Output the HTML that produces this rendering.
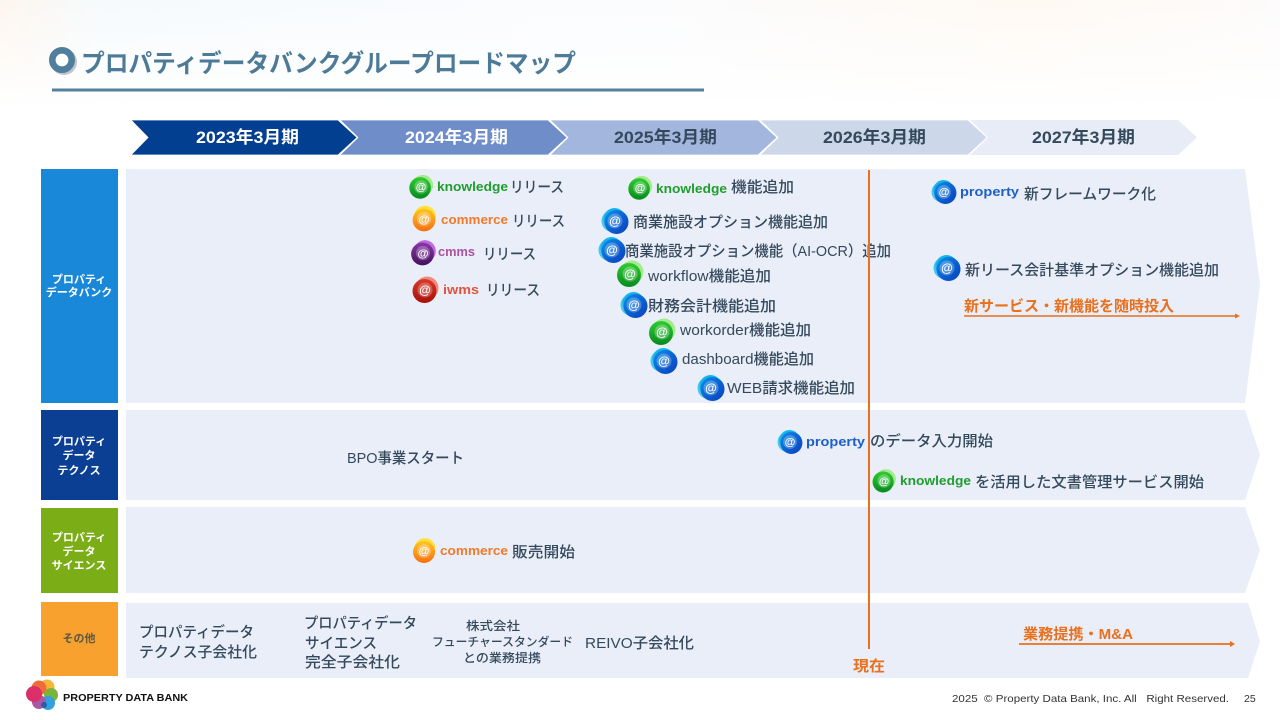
<!DOCTYPE html>
<html lang="ja"><head><meta charset="utf-8"><title>プロパティデータバンクグループロードマップ</title>
<style>
html,body{margin:0;padding:0;background:#fff}
svg{display:block}
text{font-family:"Liberation Sans","Noto Sans CJK JP",sans-serif;font-weight:500;fill:#34495c;font-size:15px}
.b{font-weight:700}
.at{fill:#fff;font-size:12px;text-anchor:middle;font-weight:700}
.y{font-size:17px;font-weight:700}
.l{font-size:11px;font-weight:700;fill:#fff;text-anchor:middle}
</style></head><body>
<svg width="1280" height="720" viewBox="0 0 1280 720" xmlns="http://www.w3.org/2000/svg">
<defs>
<linearGradient id="bg1" x1="0" y1="0" x2="1" y2="0"><stop offset="0" stop-color="#fdf6ee"/><stop offset=".08" stop-color="#f6fafd"/><stop offset=".5" stop-color="#fbfcfe"/><stop offset=".8" stop-color="#fff9f3"/><stop offset="1" stop-color="#fdfbfb"/></linearGradient>
<linearGradient id="fade" x1="0" y1="0" x2="0" y2="1"><stop offset="0" stop-color="#fff" stop-opacity="0"/><stop offset="1" stop-color="#fff"/></linearGradient>
<linearGradient id="gG" x1="0" y1="0" x2="0" y2="1"><stop offset="0" stop-color="#2fcc2f"/><stop offset="1" stop-color="#078a1e"/></linearGradient>
<linearGradient id="gO" x1="0" y1="0" x2="0" y2="1"><stop offset="0" stop-color="#ffc81e"/><stop offset="1" stop-color="#f56f14"/></linearGradient>
<linearGradient id="gP" x1="0" y1="0" x2="0" y2="1"><stop offset="0" stop-color="#8a36a8"/><stop offset="1" stop-color="#43125c"/></linearGradient>
<linearGradient id="gR" x1="0" y1="0" x2="0" y2="1"><stop offset="0" stop-color="#d83a2a"/><stop offset="1" stop-color="#a80f08"/></linearGradient>
<linearGradient id="gB" x1="0" y1="0" x2="1" y2="1"><stop offset="0" stop-color="#0e8fe6"/><stop offset=".6" stop-color="#0a5bd0"/><stop offset="1" stop-color="#0a3fb8"/></linearGradient>
<g id="bG"><circle cx="2" cy="-2" r="11.500" fill="#a6ea90"/><circle cx="-1" cy="1" r="12" fill="url(#gG)"/><circle cx="0" cy="0" r="7.500" fill="#fff" opacity=".28"/></g>
<g id="bO"><circle cx="1" cy="-2.500" r="11.500" fill="#ffe13a"/><circle cx="0" cy="1" r="12" fill="url(#gO)"/><circle cx="0" cy="0" r="7.500" fill="#fff" opacity=".28"/></g>
<g id="bP"><circle cx="2" cy="-2" r="11.500" fill="#c06adf"/><circle cx="-0.500" cy="1" r="12" fill="url(#gP)"/><circle cx="0" cy="0" r="7.500" fill="#fff" opacity=".25"/></g>
<g id="bR"><circle cx="2" cy="-2" r="11.500" fill="#f08a78"/><circle cx="-0.500" cy="1" r="12" fill="url(#gR)"/><circle cx="0" cy="0" r="7.500" fill="#fff" opacity=".25"/></g>
<g id="bB"><circle cx="-2.500" cy="0" r="11" fill="#45c6ea"/><circle cx="-0.500" cy="-2" r="11" fill="#10b4ee"/><circle cx="1.500" cy="1" r="12" fill="url(#gB)"/><circle cx="0" cy="0" r="7.500" fill="#fff" opacity=".25"/></g>
</defs>

<!-- background -->
<rect width="1280" height="720" fill="#fff"/>
<rect width="1280" height="110" fill="url(#bg1)"/>
<rect width="1280" height="110" fill="url(#fade)"/>

<!-- title -->
<circle cx="64" cy="62" r="13" fill="#8d9aa5" opacity=".55"/>
<circle cx="62" cy="60" r="9.700" fill="#fff" stroke="#4f7f9c" stroke-width="6.600"/>
<text x="81" y="72" class="b" style="font-size:25px;fill:#4d7a96" textLength="495" lengthAdjust="spacingAndGlyphs">プロパティデータバンクグループロードマップ</text>
<rect x="52" y="88.500" width="652" height="3" fill="#53809c"/>

<!-- timeline -->
<polygon points="970,120 1178,120 1197,137.500 1178,155 970,155 988,137.500" fill="#e7ecf6"/>
<polygon points="760,120 968,120 987,137.500 968,155 760,155 778,137.500" fill="#ccd7ea" stroke="#fff" stroke-width=".8"/>
<polygon points="550,120 758,120 777,137.500 758,155 550,155 568,137.500" fill="#a3b6dd" stroke="#fff" stroke-width=".8"/>
<polygon points="340,120 548,120 567,137.500 548,155 340,155 358,137.500" fill="#6f8dc9" stroke="#fff" stroke-width=".8"/>
<polygon points="131,120 338,120 357,137.500 338,155 131,155 148,137.500" fill="#033f91" stroke="#fff" stroke-width=".8"/>
<text class="y" x="196" y="143" style="fill:#fff" textLength="103" lengthAdjust="spacingAndGlyphs">2023年3月期</text>
<text class="y" x="405" y="143" style="fill:#fff" textLength="103" lengthAdjust="spacingAndGlyphs">2024年3月期</text>
<text class="y" x="614" y="143" textLength="103" lengthAdjust="spacingAndGlyphs">2025年3月期</text>
<text class="y" x="823" y="143" textLength="103" lengthAdjust="spacingAndGlyphs">2026年3月期</text>
<text class="y" x="1032" y="143" textLength="103" lengthAdjust="spacingAndGlyphs">2027年3月期</text>

<!-- bands -->
<polygon points="126,169 1245,169 1260,285 1245,403 126,403" fill="#eaeef8"/>
<polygon points="126,410 1245,410 1260,455 1245,500 126,500" fill="#eaeef8"/>
<polygon points="126,507 1245,507 1260,550 1245,593 126,593" fill="#eaeef8"/>
<polygon points="126,603 1248,603 1260,641 1248,678 126,678" fill="#eaeef8"/>

<!-- left labels -->
<rect x="41" y="169" width="77" height="234" fill="#1a88d9"/>
<rect x="41" y="410" width="77" height="90" fill="#0b3f94"/>
<rect x="41" y="508" width="77" height="85" fill="#7bae16"/>
<rect x="41" y="602" width="77" height="74" fill="#f9a12e"/>
<text class="l" x="79" y="283">プロパティ</text><text class="l" x="79" y="296">データバンク</text>
<text class="l" x="79" y="445">プロパティ</text><text class="l" x="79" y="459">データ</text><text class="l" x="79" y="474">テクノス</text>
<text class="l" x="79" y="541">プロパティ</text><text class="l" x="79" y="555">データ</text><text class="l" x="79" y="569">サイエンス</text>
<text class="l" x="79" y="642" style="fill:#5b5a45">その他</text>

<!-- icons -->
<g transform="translate(421,187) scale(.9)"><use href="#bG"/><text class="at" y="4">@</text></g>
<g transform="translate(424,219) scale(.95)"><use href="#bO"/><text class="at" y="4">@</text></g>
<g transform="translate(423,253) scale(.95)"><use href="#bP"/><text class="at" y="4">@</text></g>
<g transform="translate(425,290) scale(1)"><use href="#bR"/><text class="at" y="4">@</text></g>
<g transform="translate(640,188) scale(.9)"><use href="#bG"/><text class="at" y="4">@</text></g>
<g transform="translate(615,221)"><use href="#bB"/><text class="at" y="4">@</text></g>
<g transform="translate(612,250)"><use href="#bB"/><text class="at" y="4">@</text></g>
<g transform="translate(630,274)"><use href="#bG"/><text class="at" y="4">@</text></g>
<g transform="translate(634,305)"><use href="#bB"/><text class="at" y="4">@</text></g>
<g transform="translate(662,332)"><use href="#bG"/><text class="at" y="4">@</text></g>
<g transform="translate(664,361)"><use href="#bB"/><text class="at" y="4">@</text></g>
<g transform="translate(711,388)"><use href="#bB"/><text class="at" y="4">@</text></g>
<g transform="translate(944,192) scale(.92)"><use href="#bB"/><text class="at" y="4">@</text></g>
<g transform="translate(947,268)"><use href="#bB"/><text class="at" y="4">@</text></g>
<g transform="translate(790,442) scale(.92)"><use href="#bB"/><text class="at" y="4">@</text></g>
<g transform="translate(884,481) scale(.88)"><use href="#bG"/><text class="at" y="4">@</text></g>
<g transform="translate(424,551) scale(.92)"><use href="#bO"/><text class="at" y="4">@</text></g>

<!-- product names -->
<text class="b" x="437" y="191" style="font-size:13px;fill:#1f9e2e" textLength="71" lengthAdjust="spacingAndGlyphs">knowledge</text>
<text class="b" x="441" y="224" style="font-size:13px;fill:#ef7a2a" textLength="67" lengthAdjust="spacingAndGlyphs">commerce</text>
<text class="b" x="438" y="256" style="font-size:13px;fill:#a9549b" textLength="37" lengthAdjust="spacingAndGlyphs">cmms</text>
<text class="b" x="443" y="294" style="font-size:13px;fill:#e3533e" textLength="36" lengthAdjust="spacingAndGlyphs">iwms</text>
<text class="b" x="656" y="193" style="font-size:13px;fill:#1f9e2e" textLength="71" lengthAdjust="spacingAndGlyphs">knowledge</text>
<text class="b" x="960" y="196" style="font-size:13px;fill:#1c5fc8" textLength="59" lengthAdjust="spacingAndGlyphs">property</text>
<text class="b" x="806" y="446" style="font-size:13px;fill:#1c5fc8" textLength="59" lengthAdjust="spacingAndGlyphs">property</text>
<text class="b" x="900" y="485" style="font-size:13px;fill:#1f9e2e" textLength="71" lengthAdjust="spacingAndGlyphs">knowledge</text>
<text class="b" x="440" y="555" style="font-size:13px;fill:#ef7a2a" textLength="68" lengthAdjust="spacingAndGlyphs">commerce</text>

<!-- labels -->
<text x="510" y="192" textLength="54" lengthAdjust="spacingAndGlyphs">リリース</text>
<text x="512" y="226" textLength="53" lengthAdjust="spacingAndGlyphs">リリース</text>
<text x="483" y="259" textLength="53" lengthAdjust="spacingAndGlyphs">リリース</text>
<text x="486" y="295" textLength="54" lengthAdjust="spacingAndGlyphs">リリース</text>
<text x="731" y="192" textLength="63" lengthAdjust="spacingAndGlyphs">機能追加</text>
<text x="633" y="227" textLength="195" lengthAdjust="spacingAndGlyphs">商業施設オプション機能追加</text>
<text x="625" y="256" textLength="266" lengthAdjust="spacingAndGlyphs">商業施設オプション機能（AI-OCR）追加</text>
<text x="648" y="281" textLength="123" lengthAdjust="spacingAndGlyphs">workflow機能追加</text>
<text x="648" y="311" textLength="128" lengthAdjust="spacingAndGlyphs">財務会計機能追加</text>
<text x="680" y="335" textLength="131" lengthAdjust="spacingAndGlyphs">workorder機能追加</text>
<text x="682" y="364" textLength="132" lengthAdjust="spacingAndGlyphs">dashboard機能追加</text>
<text x="727" y="393" textLength="128" lengthAdjust="spacingAndGlyphs">WEB請求機能追加</text>
<text x="1024" y="199" textLength="132" lengthAdjust="spacingAndGlyphs">新フレームワーク化</text>
<text x="965" y="275" textLength="254" lengthAdjust="spacingAndGlyphs">新リース会計基準オプション機能追加</text>
<text x="964" y="311" class="b" style="fill:#e8701e" textLength="210" lengthAdjust="spacingAndGlyphs">新サービス・新機能を随時投入</text>
<text x="347" y="463" textLength="117" lengthAdjust="spacingAndGlyphs">BPO事業スタート</text>
<text x="870" y="446" textLength="123" lengthAdjust="spacingAndGlyphs">のデータ入力開始</text>
<text x="975" y="487" textLength="229" lengthAdjust="spacingAndGlyphs">を活用した文書管理サービス開始</text>
<text x="512" y="557" textLength="63" lengthAdjust="spacingAndGlyphs">販売開始</text>
<text x="139" y="637" textLength="115" lengthAdjust="spacingAndGlyphs">プロパティデータ</text>
<text x="139" y="657" textLength="118" lengthAdjust="spacingAndGlyphs">テクノス子会社化</text>
<text x="304" y="628" textLength="113" lengthAdjust="spacingAndGlyphs">プロパティデータ</text>
<text x="305" y="648" textLength="72" lengthAdjust="spacingAndGlyphs">サイエンス</text>
<text x="305" y="667" textLength="95" lengthAdjust="spacingAndGlyphs">完全子会社化</text>
<text x="466" y="630" style="font-size:12px" textLength="54" lengthAdjust="spacingAndGlyphs">株式会社</text>
<text x="432" y="646" style="font-size:12px" textLength="141" lengthAdjust="spacingAndGlyphs">フューチャースタンダード</text>
<text x="463" y="662" style="font-size:12px" textLength="78" lengthAdjust="spacingAndGlyphs">との業務提携</text>
<text x="585" y="648" textLength="109" lengthAdjust="spacingAndGlyphs">REIVO子会社化</text>
<text x="1023" y="639" class="b" style="fill:#e8701e" textLength="110" lengthAdjust="spacingAndGlyphs">業務提携・M&amp;A</text>
<text x="853" y="671" class="b" style="fill:#e8701e" textLength="32" lengthAdjust="spacingAndGlyphs">現在</text>

<!-- lines -->
<line x1="869" y1="170" x2="869" y2="649" stroke="#e8701e" stroke-width="2"/>
<line x1="964" y1="316" x2="1236" y2="316" stroke="#e8701e" stroke-width="1.500"/>
<polygon points="1235,313.500 1240,316 1235,318.500" fill="#e8701e"/>
<line x1="1019" y1="644" x2="1231" y2="644" stroke="#e8701e" stroke-width="1.800"/>
<polygon points="1230,641 1235,644 1230,647" fill="#e8701e"/>

<!-- logo -->
<g opacity=".92">
<circle cx="47" cy="687" r="7.500" fill="#f5b324"/>
<circle cx="39" cy="688" r="7.500" fill="#ef5f2a"/>
<circle cx="51" cy="695" r="7" fill="#6fae2a"/>
<circle cx="48" cy="703" r="7" fill="#1f9be0"/>
<circle cx="39" cy="702" r="7" fill="#a24a9e"/>
<circle cx="34" cy="694" r="8" fill="#d81e5b"/>
<circle cx="44" cy="705" r="3" fill="#1b4f9c"/>
</g>
<text x="63" y="701" class="b" style="font-size:10.500px;fill:#111" textLength="125" lengthAdjust="spacingAndGlyphs">PROPERTY DATA BANK</text>

<!-- footer -->
<text x="952" y="702" style="font-size:10.500px;font-weight:400;fill:#333" textLength="277" lengthAdjust="spacingAndGlyphs" xml:space="preserve">2025  © Property Data Bank, Inc. All   Right Reserved.</text>
<text x="1244" y="702" style="font-size:10.500px;font-weight:400;fill:#333">25</text>
</svg>
</body></html>
